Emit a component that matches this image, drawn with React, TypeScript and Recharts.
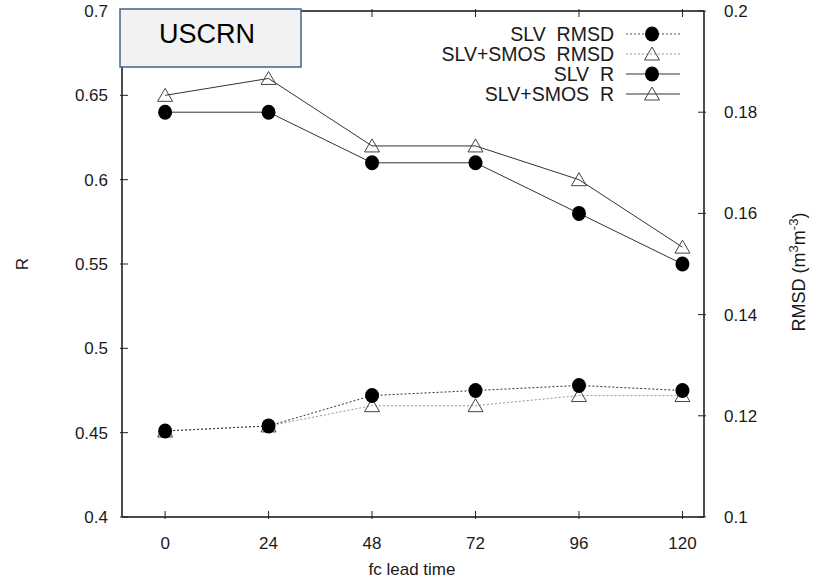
import React from 'react';
import { LineChart, Line, XAxis, YAxis } from 'recharts';

const leadTimes = [0, 24, 48, 72, 96, 120];
const slvR = [0.64, 0.64, 0.61, 0.61, 0.58, 0.55];
const smosR = [0.65, 0.66, 0.62, 0.62, 0.6, 0.56];
const slvRmsd = [0.117, 0.118, 0.124, 0.125, 0.126, 0.125];
const smosRmsd = [0.117, 0.118, 0.122, 0.122, 0.124, 0.124];

const rTicks = [0.4, 0.45, 0.5, 0.55, 0.6, 0.65, 0.7];
const rmsdTicks = [0.1, 0.12, 0.14, 0.16, 0.18, 0.2];

const data = leadTimes.map((t, i) => ({
  t,
  slvR: slvR[i],
  smosR: smosR[i],
  slvRmsd: slvRmsd[i],
  smosRmsd: smosRmsd[i],
}));

const FONT = '"Liberation Sans", Arial, sans-serif';
const TXT = '#1a1a1a';
const TICK_LEN = 8;

const Circle = (props: any) => {
  const { cx, cy } = props;
  if (cx == null || cy == null) return null;
  return <ellipse cx={cx} cy={cy} rx={7} ry={7.5} fill="#000" />;
};

const Triangle = (props: any) => {
  const { cx, cy, stroke } = props;
  if (cx == null || cy == null) return null;
  return (
    <path
      d={`M${cx},${cy - 7} L${cx + 7.5},${cy + 6} L${cx - 7.5},${cy + 6} Z`}
      fill="none"
      stroke={stroke || '#444'}
      strokeWidth={1}
    />
  );
};

const BottomTick = ({ x, y, payload }: any) => (
  <g>
    <line x1={x} y1={y} x2={x} y2={y - TICK_LEN} stroke="#222" strokeWidth={1} />
    <text x={x} y={y + 30} textAnchor="middle" fontSize={17} fill={TXT} fontFamily={FONT}>
      {payload.value}
    </text>
  </g>
);

const TopTick = ({ x, y }: any) => (
  <line x1={x} y1={y} x2={x} y2={y + TICK_LEN} stroke="#222" strokeWidth={1} />
);

const LeftTick = ({ x, y, payload }: any) => (
  <g>
    <line x1={x} y1={y} x2={x + TICK_LEN} y2={y} stroke="#222" strokeWidth={1} />
    <text x={x - 12} y={y + 6} textAnchor="end" fontSize={17} fill={TXT} fontFamily={FONT}>
      {payload.value}
    </text>
  </g>
);

const RightTick = ({ x, y, payload }: any) => (
  <g>
    <line x1={x} y1={y} x2={x - TICK_LEN} y2={y} stroke="#222" strokeWidth={1} />
    <text x={x + 18} y={y + 6} textAnchor="start" fontSize={17} fill={TXT} fontFamily={FONT}>
      {payload.value}
    </text>
  </g>
);

const legendItems = [
  { label: 'SLV  RMSD', dash: '2 2', color: '#555', marker: 'circle' },
  { label: 'SLV+SMOS  RMSD', dash: '2 2', color: '#999', marker: 'triangle' },
  { label: 'SLV  R', dash: undefined, color: '#333', marker: 'circle' },
  { label: 'SLV+SMOS  R', dash: undefined, color: '#333', marker: 'triangle' },
];

export default function App() {
  return (
    <div style={{ position: 'relative', width: 820, height: 581, background: '#fff' }}>
      <style>{`body{margin:0}`}</style>
      <LineChart
        width={820}
        height={581}
        data={data}
        margin={{ top: 0, right: 0, bottom: 0, left: 0 }}
      >
        <XAxis
          xAxisId="b"
          dataKey="t"
          type="number"
          domain={[-10, 125]}
          ticks={leadTimes}
          orientation="bottom"
          height={64}
          tickSize={0}
          tickLine={false}
          axisLine={{ stroke: '#111', strokeWidth: 1.5 }}
          tick={<BottomTick />}
          interval={0}
        />
        <XAxis
          xAxisId="top"
          dataKey="t"
          type="number"
          domain={[-10, 125]}
          ticks={leadTimes}
          orientation="top"
          height={11}
          tickSize={0}
          tickLine={false}
          axisLine={{ stroke: '#111', strokeWidth: 1.5 }}
          tick={<TopTick />}
          interval={0}
        />
        <YAxis
          yAxisId="r"
          orientation="left"
          type="number"
          domain={[0.4, 0.7]}
          ticks={rTicks}
          width={122}
          tickSize={0}
          tickLine={false}
          axisLine={{ stroke: '#111', strokeWidth: 1.5 }}
          tick={<LeftTick />}
          interval={0}
        />
        <YAxis
          yAxisId="rmsd"
          orientation="right"
          type="number"
          domain={[0.1, 0.2]}
          ticks={rmsdTicks}
          width={116}
          tickSize={0}
          tickLine={false}
          axisLine={{ stroke: '#111', strokeWidth: 1.5 }}
          tick={<RightTick />}
          interval={0}
        />
        <Line
          xAxisId="b"
          yAxisId="rmsd"
          dataKey="smosRmsd"
          stroke="#999"
          strokeWidth={1}
          strokeDasharray="2 2"
          dot={<Triangle stroke="#444" />}
          isAnimationActive={false}
        />
        <Line
          xAxisId="b"
          yAxisId="rmsd"
          dataKey="slvRmsd"
          stroke="#333"
          strokeWidth={1}
          strokeDasharray="2 2"
          dot={<Circle />}
          isAnimationActive={false}
        />
        <Line
          xAxisId="b"
          yAxisId="r"
          dataKey="smosR"
          stroke="#333"
          strokeWidth={1}
          dot={<Triangle stroke="#444" />}
          isAnimationActive={false}
        />
        <Line
          xAxisId="b"
          yAxisId="r"
          dataKey="slvR"
          stroke="#333"
          strokeWidth={1}
          dot={<Circle />}
          isAnimationActive={false}
        />
      </LineChart>
      <svg
        width={820}
        height={581}
        style={{ position: 'absolute', left: 0, top: 0, pointerEvents: 'none' }}
      >
        <rect x={120} y={9} width={181} height={58} fill="#f2f2f2" stroke="#41628e" strokeWidth={1.5} />
        <text x={207} y={43} textAnchor="middle" fontSize={27} fill="#000" fontFamily={FONT}>
          USCRN
        </text>
        {legendItems.map((it, i) => {
          const cy = 34 + i * 20;
          return (
            <g key={it.label}>
              <text
                x={614}
                y={cy + 7}
                textAnchor="end"
                fontSize={19.5}
                fill={TXT}
                fontFamily={FONT}
                style={{ whiteSpace: 'pre' }}
              >
                {it.label}
              </text>
              <line x1={626} y1={cy} x2={680} y2={cy} stroke={it.color} strokeWidth={1} strokeDasharray={it.dash} />
              {it.marker === 'circle' ? (
                <Circle cx={652} cy={cy} />
              ) : (
                <Triangle cx={652} cy={cy} stroke="#444" />
              )}
            </g>
          );
        })}
        <text
          x={28}
          y={264}
          textAnchor="middle"
          fontSize={17}
          fill={TXT}
          fontFamily={FONT}
          transform="rotate(-90 28 264)"
        >
          R
        </text>
        <text x={412} y={575} textAnchor="middle" fontSize={17} fill={TXT} fontFamily={FONT}>
          fc lead time
        </text>
        <text
          x={805}
          y={272}
          textAnchor="middle"
          fontSize={18}
          fill={TXT}
          fontFamily={FONT}
          transform="rotate(-90 805 272)"
        >
          RMSD (m<tspan dy={-7} fontSize={13}>3</tspan>
          <tspan dy={7}>m</tspan>
          <tspan dy={-7} fontSize={13}>-3</tspan>
          <tspan dy={7}>)</tspan>
        </text>
      </svg>
    </div>
  );
}
